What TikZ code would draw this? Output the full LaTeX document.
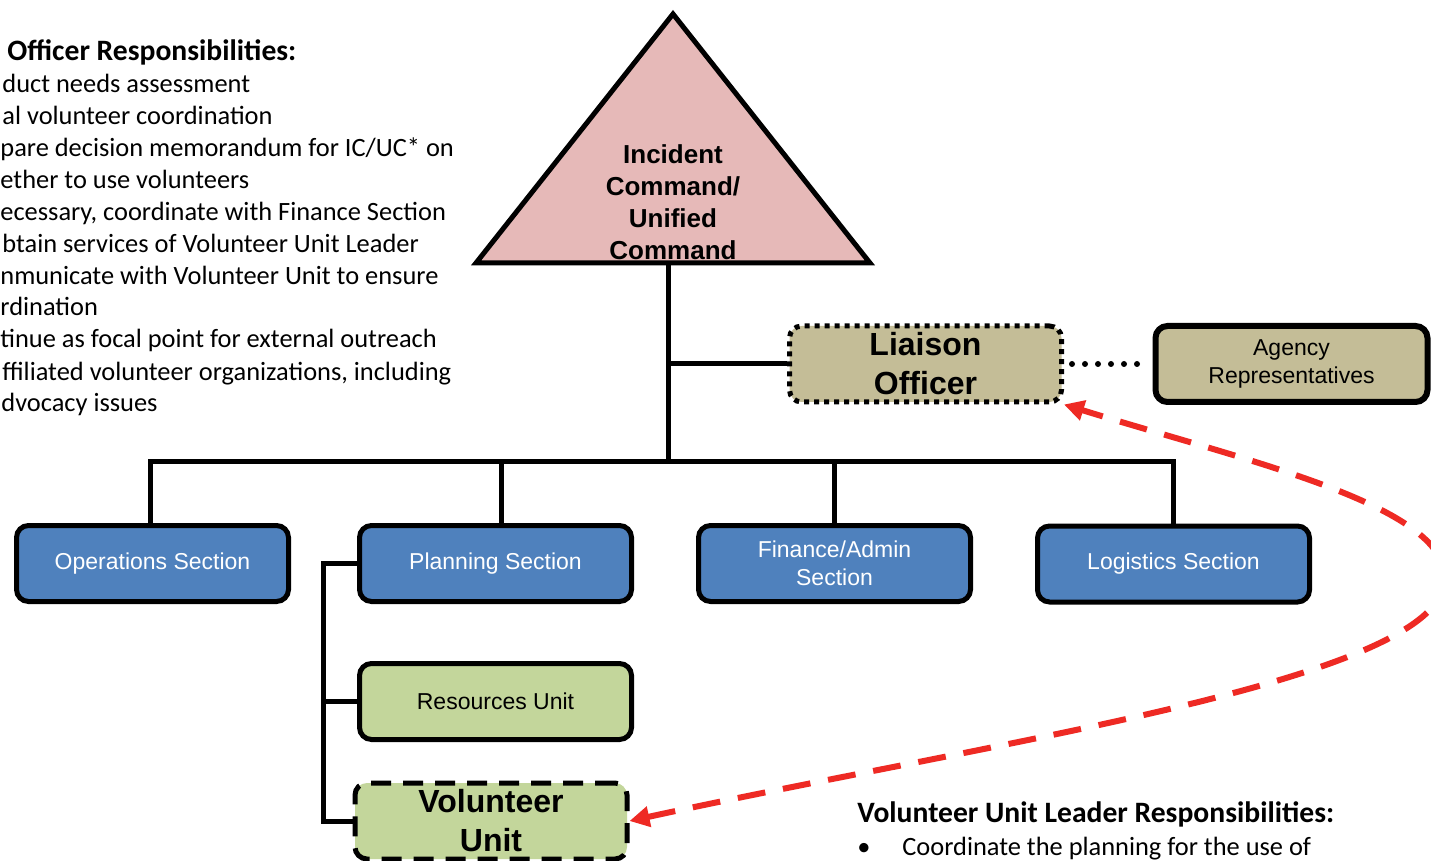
\documentclass[tikz,border=0pt]{standalone}
\usepackage{fontspec}
\setmainfont{Liberation Sans}
\newfontfamily\calf{Carlito}
\usetikzlibrary{arrows.meta}
\definecolor{icpink}{HTML}{E6B9B8}
\definecolor{tanbox}{HTML}{C4BD97}
\definecolor{secblue}{HTML}{4F81BD}
\definecolor{unitgreen}{HTML}{C3D69B}
\definecolor{arrred}{HTML}{EE2A24}
\begin{document}
\begin{tikzpicture}[x=0.5pt,y=-0.5pt,
  box/.style={draw=black, line width=2.5pt, rounded corners=6pt, minimum width=136pt, minimum height=38pt, inner sep=2pt, align=center},
  secbox/.style={box, fill=secblue, text=white, font=\fontsize{11.5}{14}\selectfont},
  unitbox/.style={box, fill=unitgreen, font=\fontsize{11.5}{14}\selectfont},
  tanstyle/.style={box, fill=tanbox},
  conn/.style={line width=2.5pt, line join=miter},
  dotconn/.style={line width=3pt, line cap=round, dash pattern=on 0pt off 6.5pt},
  redarrow/.style={draw=arrred, line width=3pt, dash pattern=on 14pt off 9pt, {Triangle[length=10pt,width=10pt]}-{Triangle[length=10pt,width=10pt]}},
  txt/.style={anchor=base west, inner sep=0pt, font=\calf\fontsize{13.2}{16}\selectfont},
  txthead/.style={txt, font=\calf\bfseries\fontsize{14.8}{18}\selectfont}
]
\path[use as bounding box] (0,0) rectangle (1431,861);
\fill[white] (0,0) rectangle (1431,861);
\clip (0,0) rectangle (1431,861);

% Triangle
\draw[line width=2.5pt, fill=icpink, line join=miter] (673,14) -- (870,263) -- (476,263) -- cycle;
\node[font=\bfseries\fontsize{13}{16}\selectfont, align=center, inner sep=0pt] (ic) at (673,202) {Incident\\Command/\\Unified\\Command};
\coordinate (icb) at (668,263);
\coordinate (lj) at (668,364);
\coordinate (hub) at (668,462);

% Liaison and agency
\node[tanstyle, dash pattern=on 2.5pt off 2.5pt, font=\bfseries\fontsize{16}{19.5}\selectfont] (lo) at (925.5,364) {Liaison\\Officer};
\node[tanstyle, line width=3pt, font=\fontsize{11.5}{14}\selectfont] (ag) at (1291.5,364) {Agency\\Representatives};

% Sections
\node[secbox] (ops) at (152.5,563.5) {Operations Section};
\node[secbox] (pln) at (495.5,563.5) {Planning Section};
\node[secbox] (fin) at (834.5,563.5) {Finance/Admin\\Section};
\node[secbox] (log) at (1173.5,564) {Logistics Section};

% Units
\node[unitbox] (res) at (495.5,701.5) {Resources Unit};
\node[box, fill=unitgreen, dash pattern=on 10pt off 6pt, font=\bfseries\fontsize{16}{19.5}\selectfont] (vol) at (491,821) {Volunteer\\Unit};

% Connectors
\coordinate (b1) at (150,462);
\coordinate (b2) at (501,462);
\coordinate (b3) at (834,462);
\coordinate (b4) at (1173,462);
\coordinate (bx) at (323,0);
\draw[conn] (icb) -- (hub);
\draw[conn] (lj) -- (lo.west);
\draw[conn] (b1 |- ops.north) -- (b1) -- (b4) -- (b4 |- log.north);
\draw[conn] (b2) -- (b2 |- pln.north);
\draw[conn] (b3) -- (b3 |- fin.north);
\draw[conn] (pln.west) -- (pln.west -| bx) -- (vol.west -| bx) -- (vol.west);
\draw[conn] (res.west -| bx) -- (res.west);
\draw[dotconn] ([xshift=4pt]lo.east) -- ([xshift=-3pt]ag.west);

% Red dashed arrow
\draw[redarrow] (vol.east) .. controls (1000,740) and (1445,680) .. (1445,578) .. controls (1445,505) and (1250,462) .. (lo.south east);

% Left text
\node[txthead] (th) at (7,61) {Officer Responsibilities:};
\node[txt] (t1) at (2,93) {duct needs assessment};
\node[txt] (t2) at (2,125) {al volunteer coordination};
\node[txt] (t3) at (0,157) {pare decision memorandum for IC/UC* on};
\node[txt] (t4) at (0,189) {ether to use volunteers};
\node[txt] (t5) at (0,221) {ecessary, coordinate with Finance Section};
\node[txt] (t6) at (2,253) {btain services of Volunteer Unit Leader};
\node[txt] (t7) at (0,285) {nmunicate with Volunteer Unit to ensure};
\node[txt] (t8) at (0,316) {rdination};
\node[txt] (t9) at (0,348) {tinue as focal point for external outreach};
\node[txt] (t10) at (2,380) {ffiliated volunteer organizations, including};
\node[txt] (t11) at (1,412) {dvocacy issues};

% Bottom right text
\node[txthead] (bh) at (857,822) {Volunteer Unit Leader Responsibilities:};
\node[txt] (bb) at (857,855) {•};
\node[txt] (bt) at (902,855) {Coordinate the planning for the use of};
\end{tikzpicture}
\end{document}
